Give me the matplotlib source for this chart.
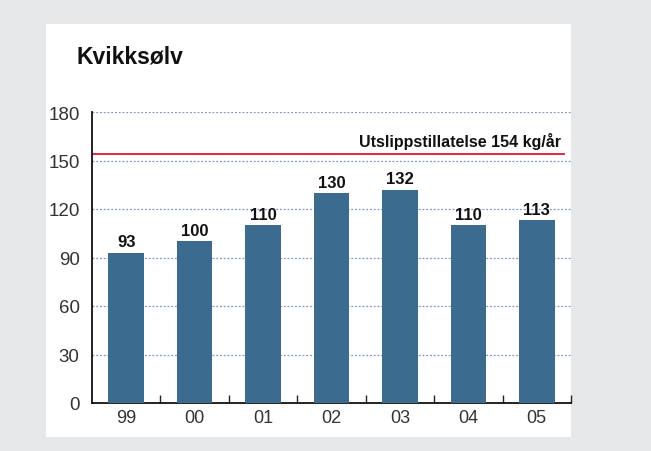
import matplotlib
matplotlib.use("Agg")
import matplotlib.pyplot as plt
from matplotlib.patches import Rectangle

categories = ["99", "00", "01", "02", "03", "04", "05"]
values = [93, 100, 110, 130, 132, 110, 113]
limit_value = 154
limit_label = "Utslippstillatelse 154 kg/år"
yticks = [0, 30, 60, 90, 120, 150, 180]
title = "Kvikksølv"

plt.rcParams['font.family'] = ['Liberation Sans', 'DejaVu Sans']

W, H = 651, 452
fig = plt.figure(figsize=(W / 100, H / 100), dpi=100)
fig.patch.set_facecolor("#e6e7e9")

# white panel
fig.patches.append(Rectangle((46 / W, 1 - 438 / H), (571 - 46) / W, (438 - 25) / H,
                             transform=fig.transFigure, facecolor="white",
                             edgecolor="none", zorder=-10))

ax_left, ax_right, ax_top, ax_bot = 92, 571, 113, 404
ax = fig.add_axes([ax_left / W, 1 - ax_bot / H, (ax_right - ax_left) / W, (ax_bot - ax_top) / H])
ax.set_zorder(5)
ax.set_facecolor("none")

x = list(range(len(categories)))
bars = ax.bar(x, values, width=0.52, color="#3b6b8f", zorder=3)
for xi, v in zip(x, values):
    ax.text(xi, v + 2.0, str(v), ha="center", va="bottom", fontsize=12,
            color="#111111", fontweight="bold", zorder=4)

ax.set_xlim(-0.5, 6.5)
ax.set_ylim(0, 180)
ax.set_yticks(yticks)
ax.set_yticklabels([str(t) for t in yticks], fontsize=13.5, color="#333333")
for t in yticks[1:]:
    ax.axhline(t, color="#7f97bd", linestyle=(0, (1.5, 1.5)), linewidth=0.9, zorder=1)

ax.plot([-0.5, 6.4], [limit_value, limit_value], color="#e2182b", linewidth=1.3, zorder=2)
ax.text(6.35, limit_value + 3, limit_label, ha="right", va="bottom", fontsize=11.5,
        color="#111111", fontweight="bold")

ax.set_xticks(x)
ax.set_xticklabels(categories, fontsize=13, color="#333333")
ax.tick_params(axis="x", length=0, pad=4)
ax.set_xticks([i + 0.5 for i in x], minor=True)
ax.tick_params(axis="x", which="minor", direction="in", length=6, width=1, color="#222222")
ax.tick_params(axis="y", length=0, pad=9)

for s in ["top", "right"]:
    ax.spines[s].set_visible(False)
ax.spines["left"].set_color("#111111")
ax.spines["bottom"].set_color("#111111")
ax.spines["left"].set_linewidth(1.3)
ax.spines["bottom"].set_linewidth(1.3)

fig.text(77 / W, 1 - 57 / H, title, ha="left", va="center", fontsize=16.5,
         fontweight="bold", color="#111111")

fig.savefig("out.png", dpi=100, facecolor=fig.get_facecolor())
